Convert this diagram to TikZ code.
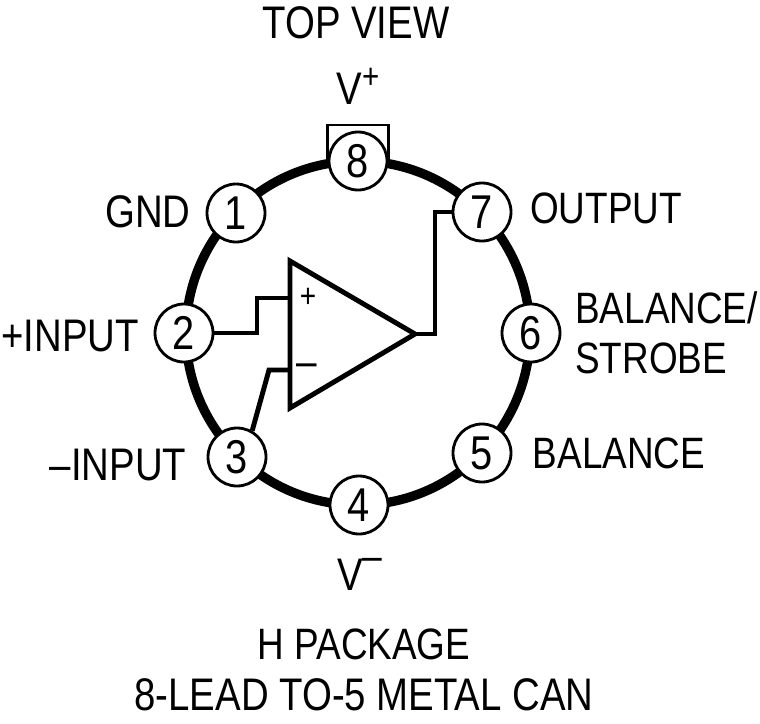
\documentclass[tikz,border=0pt]{standalone}
\usepackage{fontspec}
\setmainfont[FakeStretch=0.84]{Liberation Sans}
\usetikzlibrary{calc}

\newcommand{\uppersign}[3]{\raisebox{#1}{\fontsize{#2}{#2}\selectfont #3}}

\tikzset{
	pin/.style={circle, draw, fill=white, line width=1.6pt, minimum size=1.16cm, inner sep=0pt, font=\fontsize{27}{27}\selectfont},
	lbl/.style={inner sep=0pt, font=\fontsize{26}{28.5}\selectfont},
	lblsmall/.style={lbl, font=\fontsize{25}{28.5}\selectfont},
	wire/.style={line width=2.8pt, line join=miter},
	sign/.style={inner sep=0pt, font=\fontsize{19}{19}\selectfont}
}

\begin{document}
\begin{tikzpicture}[x=0.02cm, y=-0.02cm]
	\useasboundingbox (0, 0) rectangle (760, 723);
	
	% Can outline
	\draw[line width=5.3pt] (358, 333) circle (172);
	
	% Pins
	\foreach \name/\px/\py in {1/236/213, 2/184/333, 3/237/457, 4/359/505, 5/482/453, 6/531/333, 7/482/212, 8/358/161} {
		\node[pin] (pin\name) at (\px, \py) {\name};
	}
	
	% Tab on pin 8
	\coordinate (tabl) at (328, 125);
	\coordinate (tabr) at (387, 125);
	\draw[line width=1.4pt] (pin8.west) -- (pin8.west |- tabl) -- (pin8.east |- tabr) -- (pin8.east);
	
	% Amplifier
	\coordinate (ampa) at (290, 261);
	\coordinate (ampb) at (290, 408);
	\coordinate (ampout) at (415, 334);
	\coordinate (ampplus) at (290, 298);
	\coordinate (ampminus) at (290, 370);
	\draw[line width=2.8pt, line join=miter] (ampa) -- (ampb) -- (ampout) -- cycle;
	\node[sign] (plus) at (308, 298) {+};
	\node[sign, font=\fontsize{25}{25}\selectfont] (minus) at (307, 370) {–};
	
	% Wires
	\draw[wire] (pin2.east) -- (257, 333) -- (257, 298) -- (ampplus);
	\draw[wire] (pin3.60) -- (269, 370) -- (ampminus);
	\draw[wire] (pin7.west) -- (435, 212) -- (435, 334) -- (ampout);
	
	% Labels
	\node[lbl] (top) at (356, 23) {TOP VIEW};
	\node[lbl, anchor=base] (vplus) at (358, 105) {V\uppersign{9.2pt}{20}{+}};
	\node[lbl] (gnd) at (148, 212) {GND};
	\node[lblsmall] (output) at (606, 208) {OUTPUT};
	\node[lbl] (pinput) at (70, 336) {+INPUT};
	\node[lblsmall, align=left, anchor=west] (strobe) at (575, 333) {BALANCE/\\STROBE};
	\node[lbl] (ninput) at (118, 465) {–INPUT};
	\node[lblsmall] (balance) at (619, 453) {BALANCE};
	\node[lbl, anchor=base] (vminus) at (360, 590) {V\uppersign{11pt}{24}{–}};
	\node[lblsmall] (pkga) at (364, 644) {H PACKAGE};
	\node[lbl] (pkgb) at (364, 695) {8-LEAD TO-5 METAL CAN};
\end{tikzpicture}
\end{document}
